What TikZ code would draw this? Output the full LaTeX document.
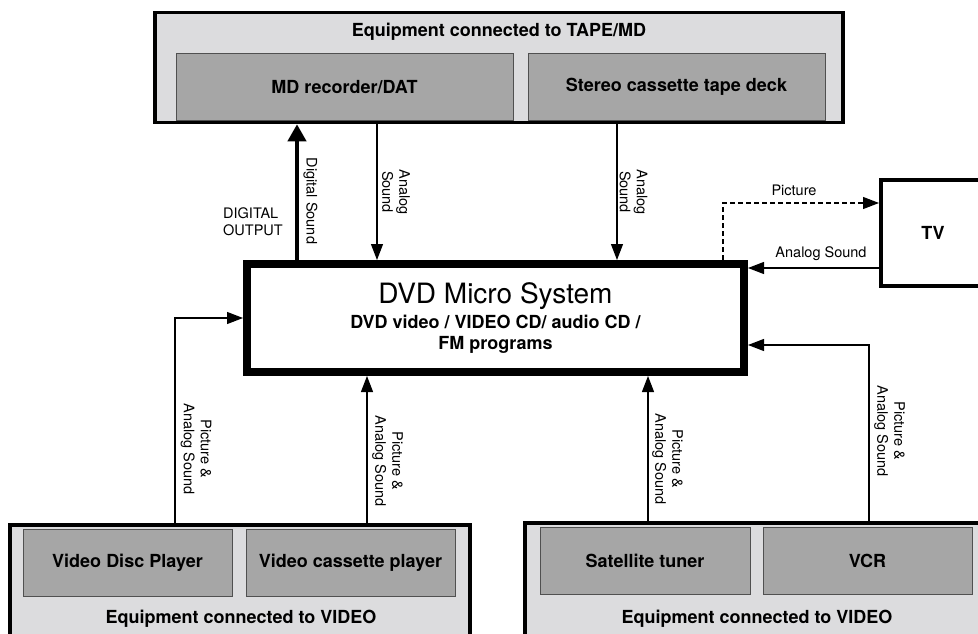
\documentclass[tikz,border=0pt]{standalone}
\usepackage{fontspec}
\setmainfont{TeX Gyre Heros}
\usetikzlibrary{arrows.meta}

\definecolor{panelgray}{RGB}{220,220,222}
\definecolor{unitgray}{RGB}{166,166,166}
\definecolor{edgegray}{RGB}{80,80,80}

\begin{document}
\begin{tikzpicture}[x=1pt, y=-1pt,
    group/.style={draw=black, line width=3.5pt, fill=panelgray, inner sep=0pt},
    unit/.style={draw=edgegray, line width=0.8pt, fill=unitgray, inner sep=0pt,
      font=\fontsize{18}{21}\selectfont\bfseries},
    grouptitle/.style={anchor=base, inner sep=0pt, font=\fontsize{18}{21}\selectfont\bfseries},
    lbl/.style={inner sep=0pt, align=center, font=\fontsize{14.5}{17}\selectfont},
    sig/.style={line width=1.2pt, -{Triangle[length=16pt,width=12pt]}}]
    \useasboundingbox (0,0) rectangle (978,634);
    \clip (0,0) rectangle (978,634);

    % equipment groups
    \node[group, minimum width=688, minimum height=110] (tape) at (499,67.5) {};
    \node[grouptitle] (tapetitle) at (499,37) {Equipment connected to TAPE/MD};
    \node[unit, minimum width=337, minimum height=67.5] (mdrec) at (344.5,86.75) {MD recorder/DAT};
    \node[unit, minimum width=297, minimum height=67.5] (deck) at (676.5,86.75) {Stereo cassette tape deck};

    \node[group, minimum width=460, minimum height=140] (vidL) at (240,595) {};
    \node[grouptitle] (vidLtitle) at (241,623) {Equipment connected to VIDEO};
    \node[unit, minimum width=209, minimum height=67] (vdp) at (127.5,562.5) {Video Disc Player};
    \node[unit, minimum width=209, minimum height=67] (vcp) at (350.5,562.5) {Video cassette player};

    \node[group, minimum width=480, minimum height=140] (vidR) at (765,593) {};
    \node[grouptitle] (vidRtitle) at (757,623) {Equipment connected to VIDEO};
    \node[unit, minimum width=210, minimum height=67] (sat) at (645,560.5) {Satellite tuner};
    \node[unit, minimum width=209, minimum height=67] (vcr) at (867.5,560.5) {VCR};

    % main unit and TV
    \node[draw, line width=8pt, fill=white, minimum width=497, minimum height=108,
      inner sep=0pt, align=center, font=\fontsize{18}{21}\selectfont\bfseries] (dvd) at (495.5,318)
      {\fontsize{28}{30}\selectfont\mdseries DVD Micro System\\[4pt]
       DVD video / VIDEO CD/ audio CD /\\FM programs};
    \node[draw, line width=4pt, fill=white, minimum width=104, minimum height=106,
      inner sep=0pt, font=\fontsize{18}{21}\selectfont\bfseries] (tv) at (933,233) {TV};

    % columns and rows of the connectors
    \coordinate (digcol) at (297,0);
    \coordinate (mdcol) at (377,0);
    \coordinate (deckcol) at (617,0);
    \coordinate (piccol) at (723,0);
    \coordinate (vdpcol) at (175,0);
    \coordinate (vcpcol) at (367,0);
    \coordinate (satcol) at (648,0);
    \coordinate (vcrcol) at (869,0);
    \coordinate (picrow) at (0,203);
    \coordinate (sndrow) at (0,268);
    \coordinate (vcrrow) at (0,345);

    % connections
    \draw[line width=4pt, -{Triangle[length=17pt,width=18pt]}] (digcol |- dvd.north) -- (digcol |- tape.south);
    \draw[sig] (mdcol |- tape.south) -- (mdcol |- dvd.north);
    \draw[sig] (deckcol |- tape.south) -- (deckcol |- dvd.north);
    \draw[sig, dash pattern=on 5pt off 3pt] (piccol |- dvd.north) |- (tv.west |- picrow);
    \draw[sig] (tv.west |- sndrow) -- (dvd.east |- sndrow);
    \draw[sig] (vdpcol |- vidL.north) |- (dvd.west);
    \draw[sig] (vcpcol |- vidL.north) -- (vcpcol |- dvd.south);
    \draw[sig] (satcol |- vidR.north) -- (satcol |- dvd.south);
    \draw[sig] (vcrcol |- vidR.north) |- (dvd.east |- vcrrow);

    % signal labels
    \node[lbl, rotate=-90] (digsnd) at (310.5,201) {Digital Sound};
    \node[lbl, align=left] (digout) at (253,221.5) {DIGITAL\\OUTPUT};
    \node[lbl, rotate=-90] (mdsnd) at (396,192) {Analog\\Sound};
    \node[lbl, rotate=-90] (decksnd) at (633.5,192) {Analog\\Sound};
    \node[lbl] (piclbl) at (794,190) {Picture};
    \node[lbl] (tvsnd) at (821,254) {Analog Sound};
    \node[lbl, rotate=-90] (vdplbl) at (196,449) {Picture \&\\Analog Sound};
    \node[lbl, rotate=-90] (vcplbl) at (387.5,461) {Picture \&\\Analog Sound};
    \node[lbl, rotate=-90] (satlbl) at (667.5,459) {Picture \&\\Analog Sound};
    \node[lbl, rotate=-90] (vcrlbl) at (889.5,431) {Picture \&\\Analog Sound};
\end{tikzpicture}
\end{document}
